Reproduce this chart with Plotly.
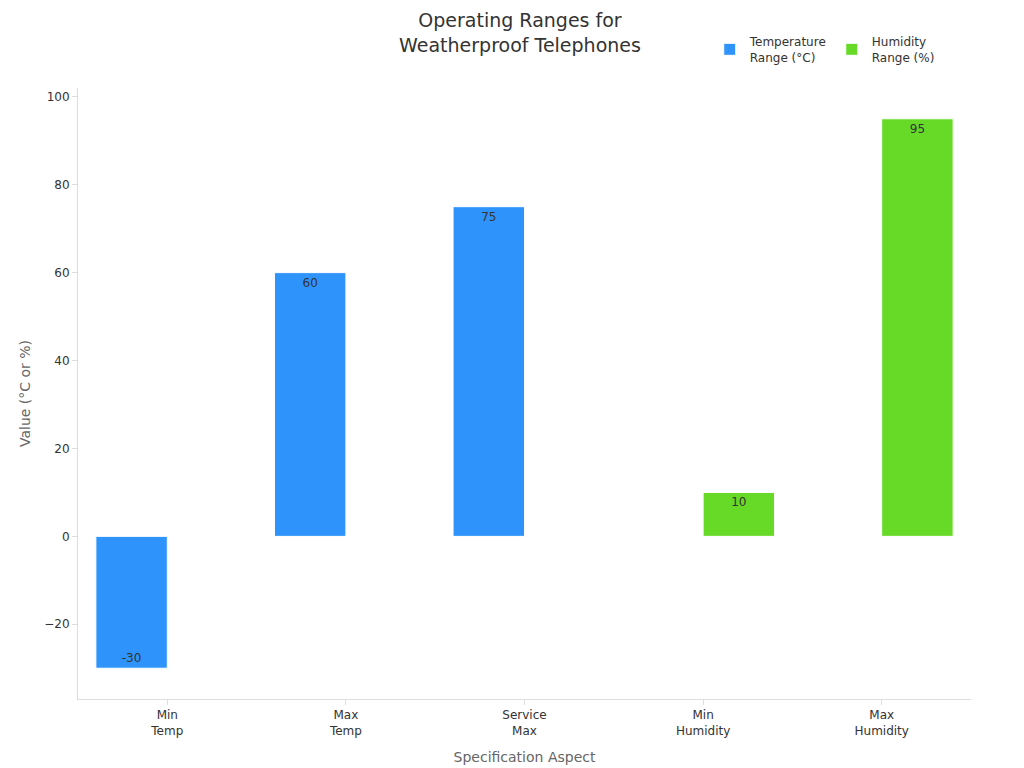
import plotly.graph_objects as go

categories = ["Min<br>Temp", "Max<br>Temp", "Service<br>Max", "Min<br>Humidity", "Max<br>Humidity"]
temp_values = [-30, 60, 75, None, None]
hum_values = [None, None, None, 10, 95]

def labels(vals):
    return [str(v) if v is not None else "" for v in vals]

fig = go.Figure()
fig.add_trace(go.Bar(x=categories, y=temp_values, name="Temperature<br>Range (°C)",
                     marker=dict(color="#2e93fa", line=dict(color="white", width=1)),
                     text=labels(temp_values), textposition="inside", insidetextanchor="end",
                     textfont=dict(color="#333", size=12)))
fig.add_trace(go.Bar(x=categories, y=hum_values, name="Humidity<br>Range (%)",
                     marker=dict(color="#66da26", line=dict(color="white", width=1)),
                     text=labels(hum_values), textposition="inside", insidetextanchor="end",
                     textfont=dict(color="#333", size=12)))
fig.update_layout(
    width=1024, height=768, barmode="group", bargap=0.2,
    font=dict(family="DejaVu Sans", size=12, color="#333"),
    title=dict(text="Operating Ranges for<br>Weatherproof Telephones", x=0.5, xanchor="center",
               y=0.975, yanchor="top", font=dict(size=19, color="#333")),
    paper_bgcolor="white", plot_bgcolor="white",
    margin=dict(l=70, r=61, t=80, b=77),
    legend=dict(orientation="h", x=0.965, xanchor="right", yref="container", y=0.975, yanchor="top",
                font=dict(size=12)),
    xaxis=dict(title=dict(text="Specification Aspect", font=dict(color="#666", size=14)),
               showline=True, linecolor="#ddd", ticks="outside", tickcolor="#ddd", ticklen=5,
               automargin=False),
    yaxis=dict(title=dict(text="Value (°C or %)", font=dict(color="#666", size=14), standoff=10),
               range=[-37, 102], showgrid=False, zeroline=False, showline=True, linecolor="#ddd",
               ticks="outside", tickcolor="#ddd", ticklen=5, dtick=20, automargin=False),
    uniformtext=dict(minsize=8),
)
fig.write_html("out.html")
